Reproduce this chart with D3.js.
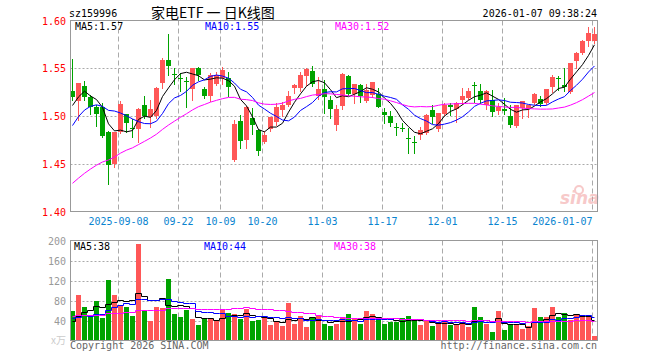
<!DOCTYPE html>
<html>
<head>
<meta charset="utf-8">
<script src="https://cdn.jsdelivr.net/npm/d3@7/dist/d3.min.js"></script>
<style>
  body { margin: 0; background: #fff; }
  svg text { font-family: "DejaVu Sans Mono", monospace; font-size: 10px; }
</style>
</head>
<body>
<div id="chart"></div>
<script>
// trading days shown on the chart
const dates = [
  "2025-08-27","2025-08-28","2025-08-29",
  "2025-09-01","2025-09-02","2025-09-03","2025-09-04","2025-09-05",
  "2025-09-08","2025-09-09","2025-09-10","2025-09-11","2025-09-12",
  "2025-09-15","2025-09-16","2025-09-17","2025-09-18","2025-09-19",
  "2025-09-22","2025-09-23","2025-09-24","2025-09-25","2025-09-26",
  "2025-09-29","2025-09-30",
  "2025-10-09","2025-10-10",
  "2025-10-13","2025-10-14","2025-10-15","2025-10-16","2025-10-17",
  "2025-10-20","2025-10-21","2025-10-22","2025-10-23","2025-10-24",
  "2025-10-27","2025-10-28","2025-10-29","2025-10-30","2025-10-31",
  "2025-11-03","2025-11-04","2025-11-05","2025-11-06","2025-11-07",
  "2025-11-10","2025-11-11","2025-11-12","2025-11-13","2025-11-14",
  "2025-11-17","2025-11-18","2025-11-19","2025-11-20","2025-11-21",
  "2025-11-24","2025-11-25","2025-11-26","2025-11-27","2025-11-28",
  "2025-12-01","2025-12-02","2025-12-03","2025-12-04","2025-12-05",
  "2025-12-08","2025-12-09","2025-12-10","2025-12-11","2025-12-12",
  "2025-12-15","2025-12-16","2025-12-17","2025-12-18","2025-12-19",
  "2025-12-22","2025-12-23","2025-12-24","2025-12-25","2025-12-26",
  "2025-12-29","2025-12-30","2025-12-31",
  "2026-01-05","2026-01-06","2026-01-07"
];

const open = [
  1.526,1.516,1.531,1.520,1.509,1.509,1.483,1.450,1.483,1.502,
  1.487,1.486,1.511,1.499,1.500,1.535,1.559,1.544,1.540,1.537,
  1.528,1.550,1.528,1.521,1.534,1.540,1.540,1.454,1.495,1.475,
  1.498,1.485,1.473,1.486,1.494,1.506,1.512,1.529,1.529,1.542,
  1.547,1.521,1.528,1.517,1.491,1.510,1.542,1.523,1.532,1.516,
  1.522,1.523,1.504,1.500,1.489,1.487,1.477,1.473,1.480,1.482,
  1.506,1.486,1.502,1.512,1.507,1.517,1.519,1.532,1.526,1.512,
  1.517,1.505,1.507,1.500,1.490,1.508,1.507,1.514,1.518,1.514,
  1.530,1.540,1.532,1.525,1.558,1.566,1.579,1.579
];
const high = [
  1.560,1.535,1.537,1.522,1.512,1.514,1.484,1.483,1.516,1.502,
  1.497,1.508,1.521,1.517,1.530,1.561,1.586,1.550,1.545,1.541,
  1.550,1.551,1.530,1.545,1.546,1.551,1.546,1.496,1.501,1.510,
  1.508,1.486,1.484,1.499,1.514,1.515,1.526,1.533,1.546,1.550,
  1.552,1.541,1.538,1.521,1.512,1.545,1.543,1.533,1.534,1.533,
  1.536,1.529,1.508,1.505,1.493,1.493,1.487,1.479,1.489,1.502,
  1.511,1.503,1.514,1.514,1.515,1.529,1.529,1.536,1.533,1.527,
  1.527,1.514,1.519,1.511,1.512,1.516,1.512,1.524,1.521,1.528,
  1.543,1.542,1.550,1.556,1.567,1.580,1.593,1.593
];
const low = [
  1.517,1.496,1.517,1.502,1.490,1.478,1.429,1.447,1.482,1.483,
  1.478,1.473,1.498,1.489,1.498,1.529,1.543,1.534,1.526,1.509,
  1.517,1.538,1.519,1.516,1.532,1.534,1.521,1.453,1.467,1.467,
  1.481,1.459,1.472,1.484,1.491,1.500,1.510,1.524,1.526,1.532,
  1.531,1.518,1.503,1.498,1.485,1.507,1.522,1.514,1.515,1.515,
  1.520,1.509,1.493,1.490,1.480,1.484,1.461,1.461,1.476,1.481,
  1.493,1.484,1.501,1.501,1.494,1.513,1.518,1.515,1.514,1.507,
  1.500,1.502,1.502,1.489,1.489,1.498,1.499,1.513,1.510,1.513,
  1.525,1.527,1.526,1.524,1.550,1.565,1.573,1.576
];
const close = [
  1.520,1.535,1.520,1.509,1.502,1.479,1.449,1.483,1.513,1.493,
  1.486,1.507,1.500,1.507,1.529,1.559,1.552,1.543,1.539,1.536,
  1.550,1.543,1.521,1.543,1.543,1.548,1.530,1.492,1.474,1.509,
  1.491,1.463,1.480,1.499,1.509,1.511,1.521,1.532,1.543,1.549,
  1.534,1.528,1.520,1.507,1.507,1.544,1.523,1.533,1.521,1.527,
  1.536,1.509,1.501,1.493,1.488,1.486,1.476,1.472,1.485,1.501,
  1.499,1.503,1.512,1.509,1.514,1.521,1.526,1.531,1.517,1.526,
  1.504,1.509,1.505,1.491,1.511,1.516,1.511,1.523,1.513,1.528,
  1.541,1.539,1.530,1.555,1.566,1.579,1.587,1.586
];
// volume, 万
const volume = [
  58.7,90.7,66.7,52,78.7,45.3,120.7,92,72,66.7,
  48.7,193.3,60.7,38.7,66.7,65.3,122.7,52.7,46.7,60.7,
  42.7,30.7,43.3,45.3,42,63.3,55.3,53.3,43.3,63.3,
  40,42,45.3,32,37.3,30,74.7,33.3,48.7,27.3,
  47.3,50,33.3,30,33.3,46.7,52.7,45.3,33.3,58.7,
  52.7,45.3,33.3,36.7,37.3,44.7,48.7,40.7,30.7,40.7,
  28.7,36.7,37.3,30.7,34,34,26.7,66.7,46.7,34,
  16.7,58.7,20.7,34,32,22.7,30,64.7,46.7,46.7,
  66.7,46.7,54.7,40.7,52.7,50.7,48.7,8.7
];
// sessions before the first visible day, estimated from where the MA lines start
const histClose = [
  1.372,1.368,1.375,1.381,1.379,1.386,1.392,1.389,1.398,1.414,
  1.405,1.398,1.402,1.410,1.408,1.415,1.420,1.418,1.425,1.430,
  1.441,1.452,1.470,1.486,1.496,1.490,1.490,1.534,1.521
];
const histVol = [
  45,52,60,38,42,55,70,48,44,51,
  58,46,40,62,53,49,57,43,47,51,
  62,45,55,40,48,48,22,35,36
];

const priceTicks = [1.40, 1.45, 1.50, 1.55, 1.60];
const volTicks = [40, 80, 120, 160, 200];
const dateTicks = ["2025-09-08","2025-09-22","2025-10-09","2025-10-20","2025-11-03","2025-11-17","2025-12-01","2025-12-15","2026-01-07"];
const dateTickLabels = ["2025-09-08","09-22","10-09","10-20","11-03","11-17","12-01","12-15","2026-01-07"];
const priceMaLabels = ["MA5:1.57", "MA10:1.55", "MA30:1.52"];
const volMaLabels = ["MA5:38", "MA10:44", "MA30:38"];

const RED = "#ff5757", GREEN = "#00a300";
const maColors = ["#000000", "#0000ff", "#ff00ff"];
const maPeriods = [5, 10, 30];

const width = 660, height = 360;
const svg = d3.select("#chart").append("svg")
  .attr("width", width).attr("height", height)
  .style("display", "block");

const plotL = 70.5, plotR = 597.5;
const x = d3.scaleBand().domain(d3.range(dates.length)).range([69.5, 597.5])
  .paddingInner(1 / 6).paddingOuter(1 / 12);
const xc = i => x(i) + x.bandwidth() / 2;
const y = d3.scaleLinear().domain([1.40, 1.60]).range([211.5, 20.5]);
const yv = d3.scaleLinear().domain([0, 200]).range([340.5, 240.5]);

function movingAvg(hist, vals, n) {
  const all = hist.concat(vals);
  return vals.map((v, i) => d3.mean(all.slice(i + hist.length - n + 1, i + hist.length + 1)));
}

// header
svg.append("text").attr("x", 69).attr("y", 17).text("sz159996");
svg.append("text").attr("x", 151).attr("y", 17.5)
  .style("font-family", "'Noto Sans CJK SC', sans-serif").style("font-size", "14px")
  .text("家电ETF 一 日K线图");
svg.append("text").attr("x", 597).attr("y", 17).attr("text-anchor", "end")
  .text("2026-01-07 09:38:24");

// grid
const gridG = svg.append("g").attr("stroke", "#aaa").attr("stroke-width", 1);
priceTicks.filter(t => t > 1.40 && t < 1.60).forEach(t => {
  const yy = Math.round(y(t)) + 0.5;
  gridG.append("line").attr("x1", plotL).attr("x2", plotR).attr("y1", yy).attr("y2", yy)
    .attr("stroke-dasharray", "2,2");
});
volTicks.filter(t => t < 200).forEach(t => {
  const yy = Math.round(yv(t)) + 0.5;
  gridG.append("line").attr("x1", plotL).attr("x2", plotR).attr("y1", yy).attr("y2", yy)
    .attr("stroke-dasharray", "2,2");
});
dateTicks.forEach(d => {
  const xx = x(dates.indexOf(d)) + 0.5;
  gridG.append("line").attr("x1", xx).attr("x2", xx).attr("y1", y(1.60)).attr("y2", y(1.40))
    .attr("stroke-dasharray", "5,3");
  gridG.append("line").attr("x1", xx).attr("x2", xx).attr("y1", yv(200)).attr("y2", yv(0))
    .attr("stroke-dasharray", "5,3");
});

// watermark
const wm = svg.append("g").attr("opacity", 0.45);
wm.append("text").attr("x", 560).attr("y", 204)
  .style("font-family", "'DejaVu Sans', sans-serif").style("font-size", "17px")
  .style("font-weight", "bold").style("font-style", "italic")
  .attr("fill", "#e88").text("sina");
wm.append("circle").attr("cx", 579).attr("cy", 190).attr("r", 4)
  .attr("fill", "none").attr("stroke", "#e88").attr("stroke-width", 2);

// candles
const candles = svg.append("g").selectAll("g").data(dates).join("g")
  .attr("fill", (d, i) => close[i] >= open[i] ? RED : GREEN)
  .attr("stroke", (d, i) => close[i] >= open[i] ? RED : GREEN);
candles.append("line")
  .attr("x1", (d, i) => xc(i)).attr("x2", (d, i) => xc(i))
  .attr("y1", (d, i) => Math.round(y(high[i]))).attr("y2", (d, i) => Math.round(y(low[i])) + 1)
  .attr("stroke-width", 1);
candles.append("rect")
  .attr("stroke", "none")
  .attr("x", (d, i) => x(i)).attr("width", x.bandwidth())
  .attr("y", (d, i) => Math.round(y(Math.max(open[i], close[i]))))
  .attr("height", (d, i) => Math.max(1, Math.round(y(Math.min(open[i], close[i]))) - Math.round(y(Math.max(open[i], close[i])))));

// price moving averages
maPeriods.forEach((n, k) => {
  const ma = movingAvg(histClose, close, n);
  svg.append("path").datum(ma)
    .attr("fill", "none").attr("stroke", maColors[k]).attr("stroke-width", 1)
    .attr("d", d3.line().x((d, i) => xc(i)).y(d => y(d)));
});

// volume bars
svg.append("g").selectAll("rect").data(volume).join("rect")
  .attr("x", (d, i) => x(i)).attr("width", x.bandwidth())
  .attr("y", d => Math.round(yv(d)))
  .attr("height", d => yv(0) - Math.round(yv(d)))
  .attr("fill", (d, i) => close[i] >= open[i] ? RED : GREEN);

maPeriods.forEach((n, k) => {
  const ma = movingAvg(histVol, volume, n);
  svg.append("path").datum(ma)
    .attr("fill", "none").attr("stroke", maColors[k]).attr("stroke-width", 1)
    .attr("d", d3.line().x((d, i) => xc(i)).y(d => Math.round(yv(d)) + 0.5).curve(d3.curveStep));
});

// frames
svg.append("rect").attr("x", plotL).attr("y", y(1.60)).attr("width", plotR - plotL)
  .attr("height", y(1.40) - y(1.60)).attr("fill", "none").attr("stroke", "#999");
svg.append("rect").attr("x", plotL).attr("y", yv(200)).attr("width", plotR - plotL)
  .attr("height", yv(0) - yv(200)).attr("fill", "none").attr("stroke", "#999");

// axis labels
svg.append("g").selectAll("text").data(priceTicks).join("text")
  .attr("x", 66).attr("y", d => y(d) + 4).attr("text-anchor", "end")
  .attr("fill", "#ff0000").text(d => d.toFixed(2));
svg.append("g").selectAll("text").data(volTicks).join("text")
  .attr("x", 66).attr("y", d => yv(d) + 4).attr("text-anchor", "end")
  .attr("fill", "#999").text(d => d);
svg.append("text").attr("x", 66).attr("y", yv(0) + 3).attr("text-anchor", "end")
  .style("font-family", "'Noto Sans CJK SC', sans-serif").style("font-size", "10px")
  .attr("fill", "#ccc").text("x万");
svg.append("g").selectAll("text").data(dateTicks).join("text")
  .attr("x", d => x(dates.indexOf(d)) + 0.5).attr("y", 225)
  .attr("text-anchor", (d, i) => i === dateTicks.length - 1 ? "end" : "middle")
  .attr("fill", "#0a84d0").text((d, i) => dateTickLabels[i]);

// MA legends
const legendX = [75, 205, 335];
priceMaLabels.forEach((t, k) => {
  svg.append("text").attr("x", legendX[k]).attr("y", 30).attr("fill", maColors[k]).text(t);
});
volMaLabels.forEach((t, k) => {
  svg.append("text").attr("x", legendX[k] - 1).attr("y", 249.5).attr("fill", maColors[k]).text(t);
});

// footer
svg.append("text").attr("x", 70).attr("y", 349).attr("fill", "#666").text("Copyright 2026 SINA.COM");
svg.append("text").attr("x", 597).attr("y", 349).attr("text-anchor", "end").attr("fill", "#666")
  .text("http://finance.sina.com.cn");
</script>
</body>
</html>
